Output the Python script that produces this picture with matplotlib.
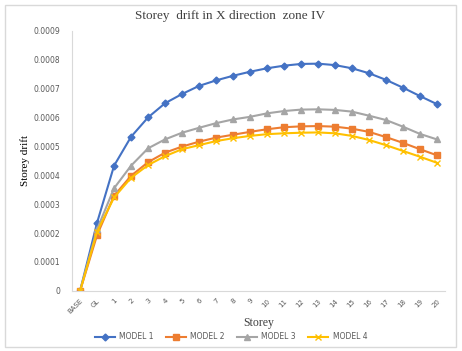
import matplotlib.pyplot as plt
from matplotlib.patches import Rectangle

storeys = ['BASE', 'GL'] + [str(i) for i in range(1, 21)]

model_1 = [0, 0.000236, 0.000433, 0.000533, 0.000600, 0.000649, 0.000681, 0.000709,
           0.000728, 0.000744, 0.000758, 0.000770, 0.000779, 0.000785, 0.000786,
           0.000781, 0.000770, 0.000753, 0.000730, 0.000703, 0.000674, 0.000646]
model_2 = [0, 0.000193, 0.000329, 0.000398, 0.000445, 0.000478, 0.000499, 0.000516,
           0.000530, 0.000540, 0.000550, 0.000559, 0.000566, 0.000569, 0.000570,
           0.000568, 0.000561, 0.000550, 0.000532, 0.000512, 0.000490, 0.000469]
model_3 = [0, 0.000213, 0.000355, 0.000433, 0.000493, 0.000524, 0.000547, 0.000564,
           0.000580, 0.000593, 0.000602, 0.000614, 0.000622, 0.000627, 0.000628,
           0.000626, 0.000620, 0.000606, 0.000591, 0.000568, 0.000543, 0.000524]
model_4 = [0, 0.000205, 0.000323, 0.000391, 0.000435, 0.000466, 0.000490, 0.000504,
           0.000518, 0.000528, 0.000536, 0.000542, 0.000545, 0.000547, 0.000548,
           0.000545, 0.000536, 0.000522, 0.000504, 0.000484, 0.000464, 0.000443]

y_ticks = [0, 0.0001, 0.0002, 0.0003, 0.0004, 0.0005, 0.0006, 0.0007, 0.0008, 0.0009]
y_labels = ['0', '0.0001', '0.0002', '0.0003', '0.0004', '0.0005', '0.0006', '0.0007', '0.0008', '0.0009']

fig = plt.figure(figsize=(4.62, 3.51), dpi=100)
ax = fig.add_axes([0.155, 0.1715, 0.809, 0.741])

# borda do gráfico
fig.patches.append(Rectangle((0.011, 0.011), 0.975, 0.975, transform=fig.transFigure,
                             fill=False, edgecolor='#D9D9D9', linewidth=1))

x = range(len(storeys))
ax.plot(x, model_1, color='#4472C4', marker='D', markersize=3.5, linewidth=1.5, label='MODEL 1')
ax.plot(x, model_2, color='#ED7D31', marker='s', markersize=4, linewidth=1.5, label='MODEL 2')
ax.plot(x, model_3, color='#A5A5A5', marker='^', markersize=4, linewidth=1.5, label='MODEL 3')
ax.plot(x, model_4, color='#FFC000', marker='x', markersize=4, linewidth=1.5, label='MODEL 4')

ax.set_xlim(-0.5, len(storeys) - 0.5)
ax.set_ylim(0, 0.0009)
ax.set_yticks(y_ticks)
ax.set_yticklabels(y_labels, fontsize=5.5, color='#595959')
ax.set_xticks(list(x))
ax.set_xticklabels(storeys, fontsize=5, color='#595959', rotation=45, ha='right',
                   rotation_mode='anchor')
ax.tick_params(axis='y', length=0, pad=8)
ax.tick_params(axis='x', length=0, pad=5)

for s in ['top', 'right']:
    ax.spines[s].set_visible(False)
ax.spines['left'].set_color('#D9D9D9')
ax.spines['bottom'].set_color('#D9D9D9')

# título centrado na figura
fig.text(0.497, 0.953, 'Storey  drift in X direction  zone IV', fontsize=9.5,
         family='Liberation Serif', color='#404040', ha='center', va='center')
ax.set_ylabel('Storey drift', fontsize=8, family='Liberation Serif', color='#000000')
ax.set_xlabel('Storey', fontsize=8.5, family='Liberation Serif', color='#404040')
ax.xaxis.set_label_coords(0.5, -0.1)
ax.yaxis.set_label_coords(-0.111, 0.5)

fig.legend(*ax.get_legend_handles_labels(), loc='center', bbox_to_anchor=(0.5, 0.04), ncol=4,
           frameon=False, fontsize=5.5, handlelength=2.6, columnspacing=1.6, handletextpad=0.6,
           labelcolor='#595959')

plt.savefig('out.png', dpi=100)
